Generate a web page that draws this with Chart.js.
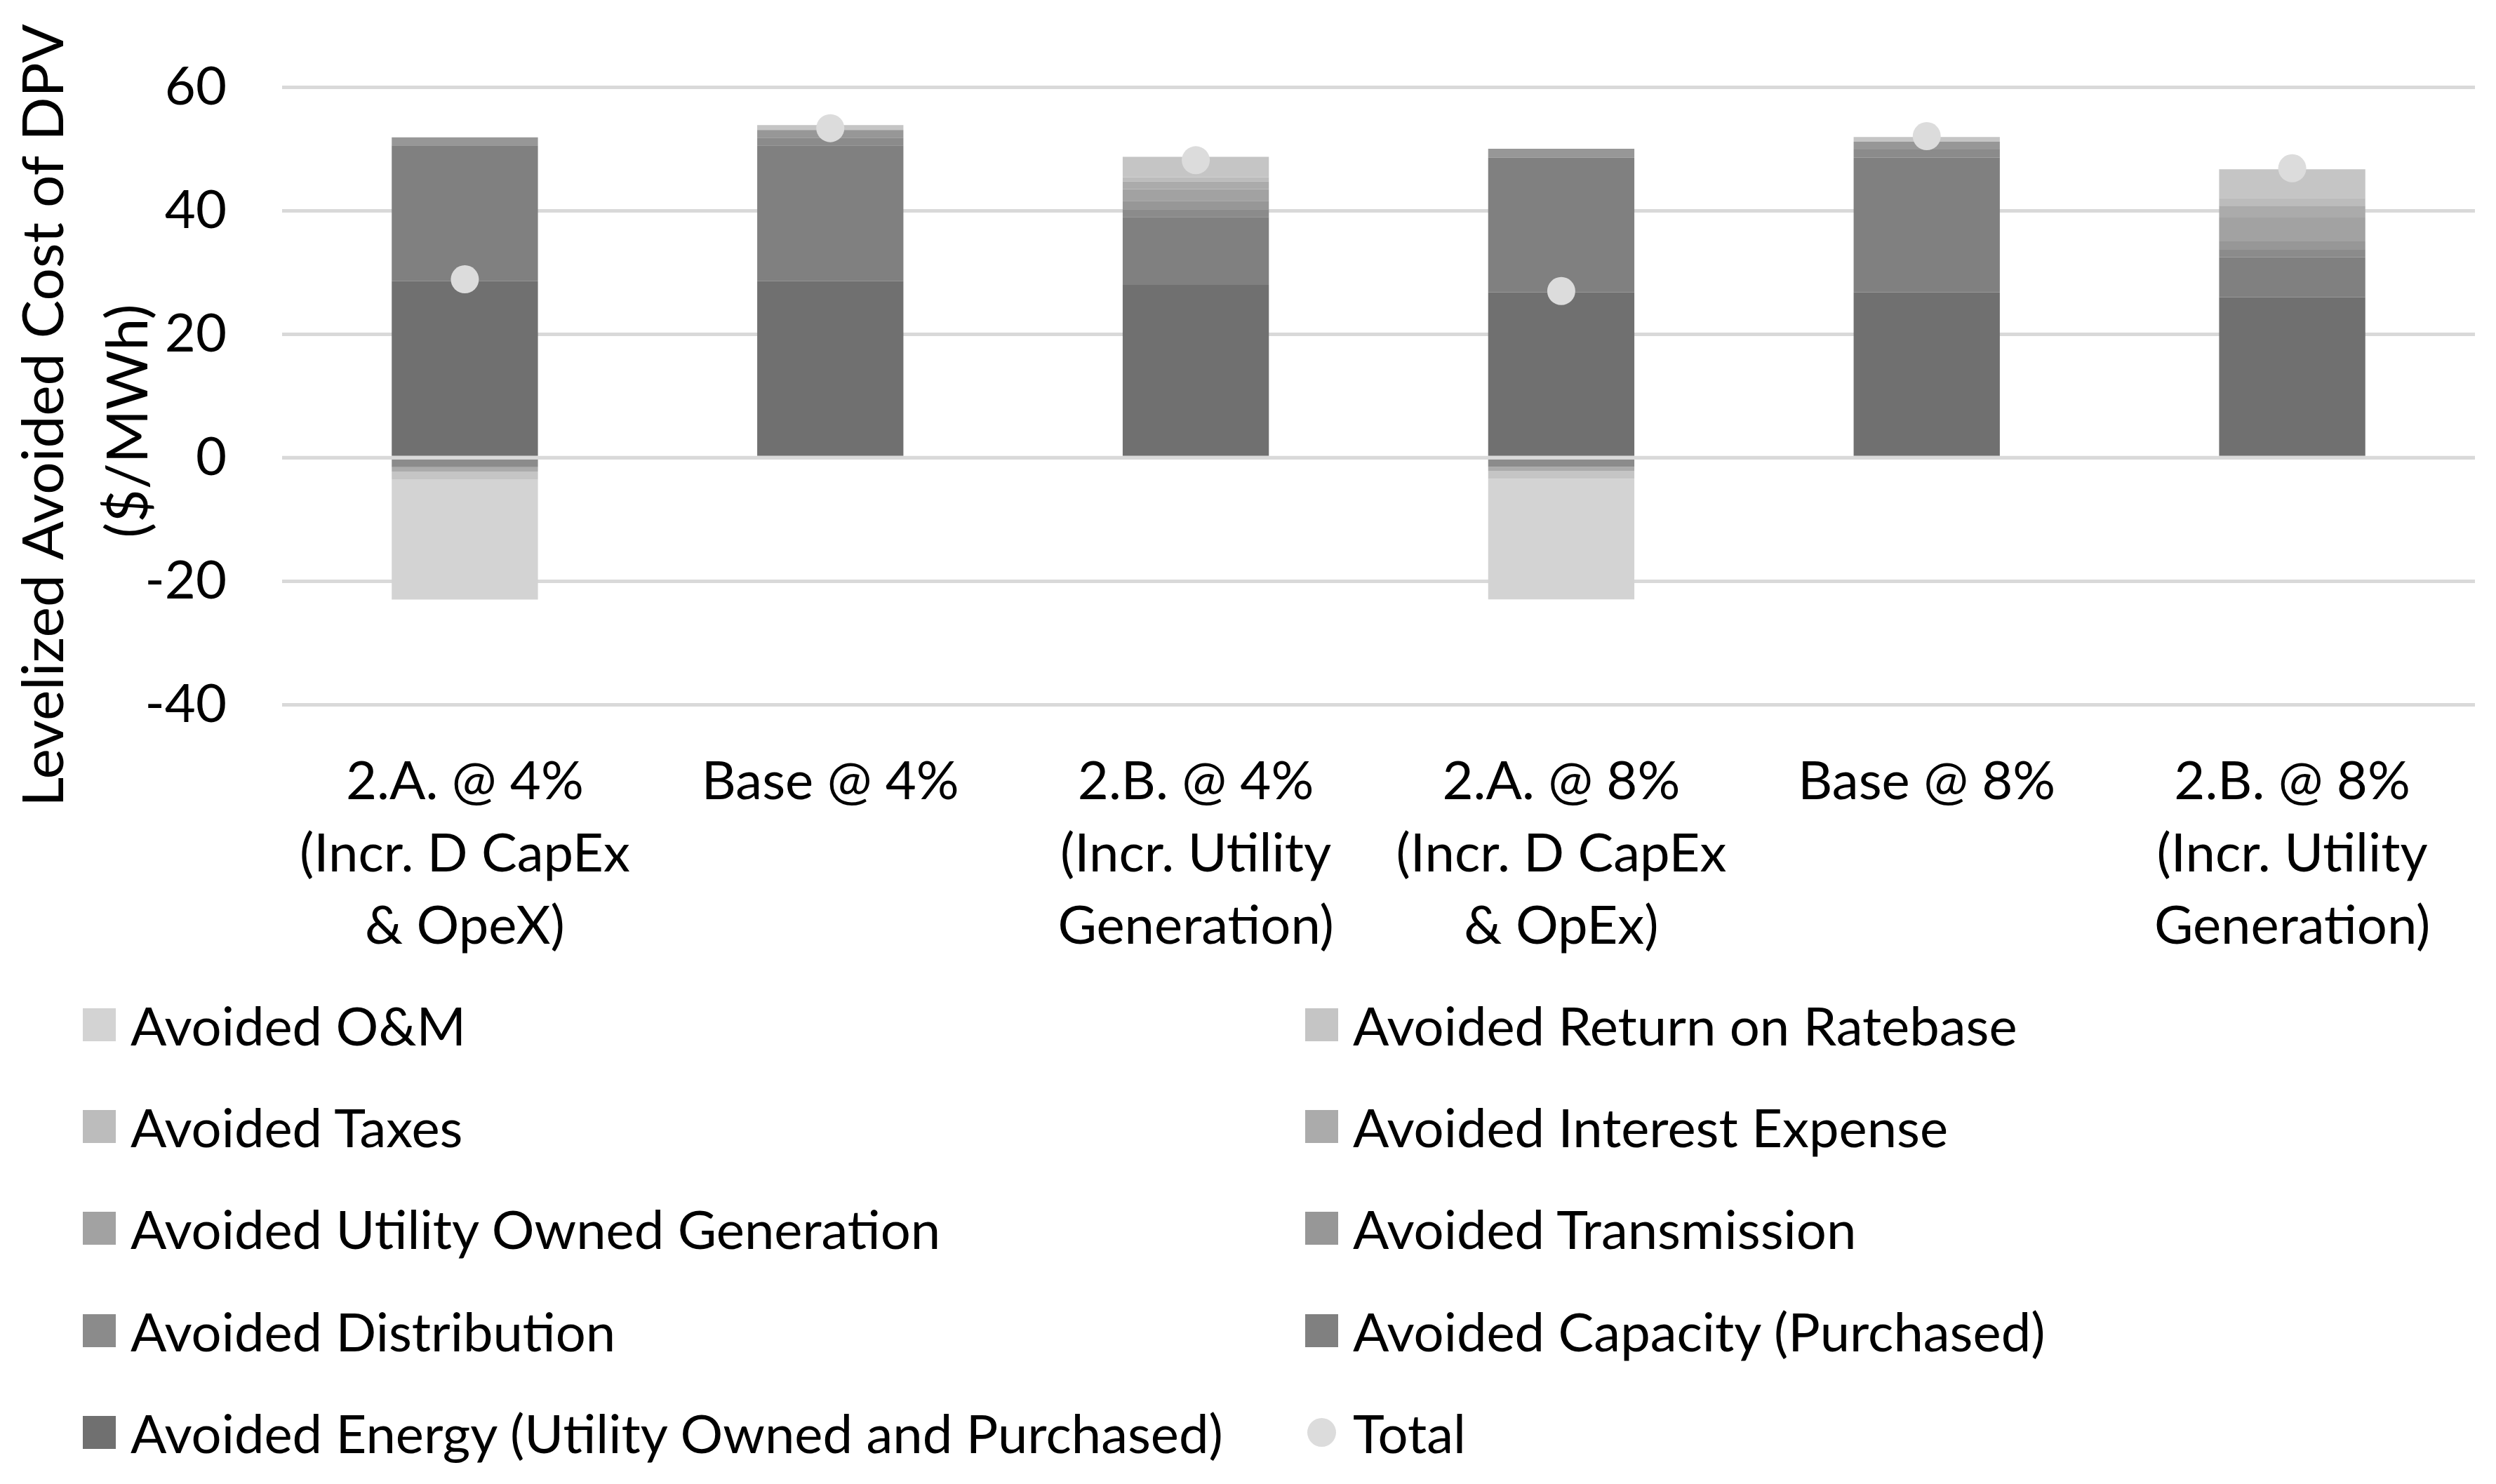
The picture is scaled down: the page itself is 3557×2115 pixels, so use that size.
<!DOCTYPE html>
<html>
<head>
<meta charset="utf-8">
<script src="https://cdn.jsdelivr.net/npm/chart.js@4.4.1/dist/chart.umd.min.js"></script>
<style>
  html, body { margin: 0; padding: 0; background: #fff; }
  #wrap { position: relative; width: 3557px; height: 2115px; }
  #legenda { position: absolute; left: 0; top: 0; width: 100%; height: 100%; pointer-events: none;
             font-family: Lato, sans-serif; font-size: 76px; color: #000; }
  .voce { position: absolute; display: flex; align-items: center; height: 100px; white-space: nowrap; }
  .quadrato { width: 47px; height: 47px; margin-right: 21px; }
  .punto { width: 41px; height: 41px; border-radius: 50%; margin: 0 24px 0 3px; }
</style>
</head>
<body>
<div id="wrap">
  <canvas id="grafico_1"></canvas>
  <div id="legenda"></div>
</div>
<script>
// categorie (etichette asse x, su piu righe)
var categorie = [
  ['2.A. @ 4%', '(Incr. D CapEx', '& OpeX)'],
  ['Base @ 4%'],
  ['2.B. @ 4%', '(Incr. Utility', 'Generation)'],
  ['2.A. @ 8%', '(Incr. D CapEx', '& OpEx)'],
  ['Base @ 8%'],
  ['2.B. @ 8%', '(Incr. Utility', 'Generation)']
];

// valori delle serie ($/MWh), dal basso verso l'alto della pila
var energia       = [28.6, 28.6, 28.0, 26.8, 26.8, 26.0];
var capacita      = [22.0, 22.0, 11.0, 21.8, 21.8, 6.45];
var distribuzione = [-1.55, 1.25, 1.25, -1.5, 1.35, 1.25];
var trasmissione  = [1.3, 1.25, 1.36, 1.46, 1.24, 1.36];
var generazione   = [0, 0, 1.92, 0, 0, 3.85];
var interessi     = [-0.7, 0, 1.25, -0.7, 0, 1.92];
var tasse         = [0, 0, 0.68, 0, 0, 1.25];
var rendimento    = [-1.24, 0.8, 3.28, -1.21, 0.79, 4.65];
var om            = [-19.5, 0, 0, -19.55, 0, 0];
var totale        = [28.9, 53.4, 48.2, 27.0, 52.1, 46.9];

// tick asse y e titolo asse y
var tick_y = [-40, -20, 0, 20, 40, 60];
var titolo_y = ['Levelized Avoided Cost of DPV', '($/MWh)'];

var serie = [
  { nome: 'Avoided Energy (Utility Owned and Purchased)', dati: energia, colore: '#707070' },
  { nome: 'Avoided Capacity (Purchased)', dati: capacita, colore: '#808080' },
  { nome: 'Avoided Distribution', dati: distribuzione, colore: '#8b8b8b' },
  { nome: 'Avoided Transmission', dati: trasmissione, colore: '#979797' },
  { nome: 'Avoided Utility Owned Generation', dati: generazione, colore: '#a2a2a2' },
  { nome: 'Avoided Interest Expense', dati: interessi, colore: '#ababab' },
  { nome: 'Avoided Taxes', dati: tasse, colore: '#bcbcbc' },
  { nome: 'Avoided Return on Ratebase', dati: rendimento, colore: '#c5c5c5' },
  { nome: 'Avoided O&M', dati: om, colore: '#d3d3d3' }
];

var font_base = 'Lato, sans-serif';

var datasets = [];
for (var i = 0; i < serie.length; i++) {
  datasets.push({
    type: 'bar',
    label: serie[i].nome,
    data: serie[i].dati,
    backgroundColor: serie[i].colore,
    borderWidth: 0,
    stack: 'costi',
    order: 1,
    categoryPercentage: 1.0,
    barPercentage: 0.4
  });
}
datasets.push({
  type: 'line',
  label: 'Total',
  data: totale,
  showLine: false,
  stack: 'totale',
  order: 0,
  pointRadius: 20,
  pointBackgroundColor: '#dcdcdc',
  pointBorderWidth: 0,
  borderColor: '#dcdcdc',
  backgroundColor: '#dcdcdc'
});

// linea dello zero sopra le barre
var linea_zero = {
  id: 'linea_zero',
  afterDatasetsDraw: function(chart) {
    var ctx = chart.ctx;
    var y = chart.scales.y.getPixelForValue(0);
    ctx.save();
    ctx.strokeStyle = '#d9d9d9';
    ctx.lineWidth = 5;
    ctx.beginPath();
    ctx.moveTo(chart.chartArea.left, y);
    ctx.lineTo(chart.chartArea.right, y);
    ctx.stroke();
    ctx.restore();
  }
};

// titolo asse y (due righe ruotate, centrate come nell'originale)
var titolo_asse = {
  id: 'titolo_asse',
  afterDraw: function(chart) {
    var ctx = chart.ctx;
    var pos_x = [64, 184];
    var pos_y = [592, 600];
    ctx.save();
    ctx.fillStyle = '#000';
    ctx.font = '82px ' + font_base;
    ctx.textAlign = 'center';
    ctx.textBaseline = 'middle';
    for (var r = 0; r < titolo_y.length; r++) {
      ctx.save();
      ctx.translate(pos_x[r], pos_y[r]);
      ctx.rotate(-Math.PI / 2);
      ctx.fillText(titolo_y[r], 0, 0);
      ctx.restore();
    }
    ctx.restore();
  }
};

var chart = new Chart(document.getElementById('grafico_1'), {
  type: 'bar',
  data: { labels: categorie, datasets: datasets },
  options: {
    responsive: true,
    maintainAspectRatio: false,
    animation: false,
    layout: { padding: { top: 116, right: 30, bottom: 711, left: 0 } },
    plugins: {
      legend: { display: false },
      tooltip: { enabled: false }
    },
    scales: {
      x: {
        stacked: true,
        grid: { display: false },
        border: { display: false },
        ticks: {
          color: '#000',
          font: { family: font_base, size: 76, lineHeight: 1.355 },
          padding: 51,
          autoSkip: false,
          maxRotation: 0
        },
        afterFit: function(scale) { scale.height = 400; }
      },
      y: {
        stacked: true,
        min: tick_y[0],
        max: tick_y[tick_y.length - 1],
        afterBuildTicks: function(scale) {
          scale.ticks = tick_y.map(function(v) { return { value: v }; });
        },
        grid: { color: '#d9d9d9', lineWidth: 5, drawTicks: false },
        border: { display: false },
        ticks: {
          color: '#000',
          font: { family: font_base, size: 76 },
          padding: 79
        },
        afterFit: function(scale) { scale.width = 402; }
      }
    }
  },
  plugins: [linea_zero, titolo_asse]
});

// legenda in due colonne, ordine come nel grafico originale
var ordine = [8, 7, 6, 5, 4, 3, 2, 1, 0, 9];
var colonne_x = [118, 1860];
var righe_y = [1460, 1605, 1750, 1896, 2041];
var legenda = document.getElementById('legenda');
for (var k = 0; k < ordine.length; k++) {
  var ds = chart.data.datasets[ordine[k]];
  var voce = document.createElement('div');
  voce.className = 'voce';
  voce.style.left = colonne_x[k % 2] + 'px';
  voce.style.top = (righe_y[Math.floor(k / 2)] - 50) + 'px';
  var segno = document.createElement('span');
  segno.className = ds.type === 'line' ? 'punto' : 'quadrato';
  segno.style.background = ds.type === 'line' ? ds.pointBackgroundColor : ds.backgroundColor;
  var testo = document.createElement('span');
  testo.textContent = ds.label;
  voce.appendChild(segno);
  voce.appendChild(testo);
  legenda.appendChild(voce);
}
</script>
</body>
</html>
